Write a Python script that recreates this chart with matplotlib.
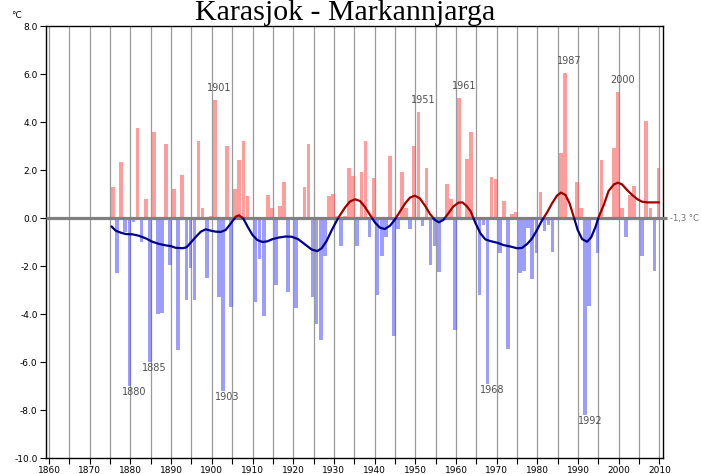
import numpy as np
import matplotlib
matplotlib.use('Agg')
import matplotlib.pyplot as plt
from matplotlib.patches import Rectangle

plt.rcParams['axes.unicode_minus'] = False

# ---------------- data ----------------
years = list(range(1876, 2011))
anomaly = [
    1.3, -2.3, 2.35, -0.6, -7.0, -0.15, 3.75, -1.0, 0.8, -6.0,          # 1876-1885
    3.6, -4.0, -3.95, 3.1, -1.96, 1.2, -5.5, 1.8, -3.4, -2.1,           # 1886-1895
    -3.4, 3.2, 0.4, -2.5, 0.1, 4.9, -3.3, -7.2, 3.0, -3.7,              # 1896-1905
    1.2, 2.4, 3.2, 0.9, -0.1, -3.5, -1.7, -4.1, 0.95, 0.4,              # 1906-1915
    -2.8, 0.5, 1.5, -3.1, -0.1, -3.75, 0.05, 1.3, 3.1, -3.3,            # 1916-1925
    -4.4, -5.1, -1.6, 0.9, 1.0, 0.1, -1.15, 0.1, 2.1, 1.75,             # 1926-1935
    -1.15, 1.9, 3.2, -0.8, 1.65, -3.2, -1.6, -0.8, 2.6, -4.9,           # 1936-1945
    -0.45, 1.9, 0.4, -0.45, 3.0, 4.4, -0.35, 2.1, -1.95, -1.15,         # 1946-1955
    -2.26, -0.1, 1.4, 0.8, -4.65, 5.0, 0.05, 2.45, 3.6, 0.05,           # 1956-1965
    -3.2, -0.3, -6.9, 1.72, 1.64, -1.47, 0.7, -5.45, 0.15, 0.24,        # 1966-1975
    -2.28, -2.2, -0.4, -2.55, -1.47, 1.1, -0.55, -0.3, -1.4, 0.05,      # 1976-1985
    2.7, 6.05, -0.1, 0.05, 1.5, 0.4, -8.2, -3.67, -0.05, -1.47,         # 1986-1995
    2.43, 0.05, 0.05, 2.9, 5.24, 0.43, -0.78, 0.96, 1.33, 0.05,         # 1996-2005
    -1.57, 4.04, 0.43, -2.2, 2.1,                                       # 2006-2010
]

trend_years = [
    1875.4, 1876.4, 1877.6, 1878.9, 1880.5, 1882.1, 1883.8, 1885.4, 1887.0, 1888.7,
    1889.9, 1891.1, 1892.8, 1893.8, 1894.8, 1896.1, 1897.3, 1898.5, 1899.8, 1901.0,
    1902.2, 1903.4, 1904.7, 1905.9, 1906.7, 1907.7, 1908.8, 1910.0, 1911.2, 1912.5,
    1913.7, 1914.9, 1916.6, 1918.2, 1919.6, 1921.2, 1922.9, 1924.5, 1925.9, 1927.0,
    1928.2, 1929.4, 1930.7, 1931.5, 1932.7, 1933.9, 1935.2, 1936.4, 1937.6, 1938.9,
    1940.1, 1941.3, 1942.5, 1943.8, 1945.0, 1946.2, 1947.5, 1948.7, 1949.9, 1951.1,
    1952.4, 1953.6, 1954.8, 1955.8, 1956.9, 1958.1, 1959.3, 1960.6, 1961.6, 1962.6,
    1963.6, 1964.8, 1966.0, 1967.2, 1968.4, 1970.1, 1971.7, 1973.4, 1975.0, 1976.2,
    1977.5, 1978.7, 1979.9, 1981.1, 1982.4, 1983.6, 1984.8, 1985.8, 1986.9, 1987.9,
    1988.9, 1989.9, 1991.0, 1992.2, 1993.2, 1994.3, 1995.1, 1996.3, 1997.5, 1998.8,
    1999.8, 2000.8, 2002.0, 2003.3, 2004.5, 2005.7, 2007.0, 2008.2, 2009.8,
]
trend_values = [
    -0.36, -0.53, -0.61, -0.67, -0.68, -0.74, -0.85, -0.99, -1.08, -1.14,
    -1.17, -1.24, -1.26, -1.22, -1.03, -0.78, -0.57, -0.47, -0.53, -0.57,
    -0.58, -0.50, -0.22, 0.06, 0.11, -0.01, -0.36, -0.71, -0.92, -1.00,
    -0.97, -0.88, -0.81, -0.77, -0.78, -0.88, -1.10, -1.31, -1.38, -1.26,
    -0.96, -0.53, -0.11, 0.12, 0.43, 0.68, 0.78, 0.71, 0.47, 0.12,
    -0.19, -0.40, -0.46, -0.32, -0.06, 0.26, 0.61, 0.85, 0.93, 0.82,
    0.51, 0.17, -0.08, -0.18, -0.08, 0.19, 0.47, 0.64, 0.65, 0.50,
    0.28, -0.22, -0.64, -0.89, -0.96, -1.03, -1.13, -1.19, -1.26, -1.25,
    -1.08, -0.85, -0.50, -0.11, 0.24, 0.61, 0.93, 1.06, 0.96, 0.61,
    0.06, -0.50, -0.88, -0.99, -0.81, -0.36, 0.06, 0.54, 1.13, 1.40,
    1.47, 1.40, 1.17, 0.96, 0.79, 0.68, 0.65, 0.65, 0.65,
]

label_years = [1880, 1885, 1901, 1903, 1951, 1961, 1968, 1987, 1992, 2000]

x_ticks = list(range(1860, 2011, 5))
x_ticklabels = [str(y) if y % 10 == 0 else '' for y in x_ticks]
y_ticks = list(range(-10, 9, 2))
y_ticklabels = ['%.1f' % v for v in y_ticks]

title = 'Karasjok - Markannjarga'
baseline_text = '-1,3 °C'
unit_text = '°C'

# ---------------- figure ----------------
W, H = 701, 474
fig = plt.figure(figsize=(W / 100, H / 100), dpi=100)
ax = fig.add_axes([46 / W, 16 / H, (663 - 46) / W, 432 / H])

xmin, xmax = 1859.26, 2010.86
ax.set_xlim(xmin, xmax)
ax.set_ylim(-10, 8)

# vertical grid
ax.set_xticks(x_ticks)
ax.set_xticklabels(x_ticklabels)
ax.set_yticks(y_ticks)
ax.set_yticklabels(y_ticklabels)
ax.grid(axis='x', color='#9a9a9a', lw=0.9, zorder=0)
ax.grid(axis='y', visible=False)
ax.set_axisbelow(True)
ax.tick_params(axis='both', direction='out', length=4, width=0.8,
               labelsize=6.5, pad=2, colors='black')

for s in ax.spines.values():
    s.set_color('black')
    s.set_linewidth(1.0)

# bars
yrs = np.array(years, dtype=float)
vals = np.array(anomaly)
colors = [(1.0, 0.36, 0.36, 0.6) if v >= 0 else (0.36, 0.36, 1.0, 0.6) for v in vals]
ax.bar(yrs - 0.25, vals, width=0.9, color=colors, linewidth=0, zorder=2)

# zero line extending beyond the axes
ax.plot([xmin, 2011.9], [0, 0], color='#808080', lw=2.3, clip_on=False, zorder=3,
        solid_capstyle='butt')
ax.text(2012.6, 0, baseline_text, fontsize=6, color='#707070', va='center',
        ha='left', clip_on=False)

# smoothed trend line, red above zero, blue below
lr, = ax.plot(trend_years, trend_values, color='#a00000', lw=1.6, zorder=4)
lb, = ax.plot(trend_years, trend_values, color='#00008c', lw=1.6, zorder=4)
lr.set_clip_path(Rectangle((1850, 0), 200, 20, transform=ax.transData))
lb.set_clip_path(Rectangle((1850, -20), 200, 20, transform=ax.transData))

# year annotations
for y in label_years:
    v = anomaly[years.index(y)]
    ty = v + 0.5 if v > 0 else v - 0.27
    ax.text(y + 0.9, ty, str(y), fontsize=7, color='#505050', ha='center',
            va='center', zorder=5)

# title and unit
fig.text(345 / W, 1 - 20 / H, title, ha='center', va='baseline',
         family='Liberation Serif', fontsize=21.5, color='black')
fig.text(11 / W, 1 - 16 / H, unit_text, ha='left', va='center', fontsize=6.5,
         color='black')

fig.savefig('out.png', dpi=100)
